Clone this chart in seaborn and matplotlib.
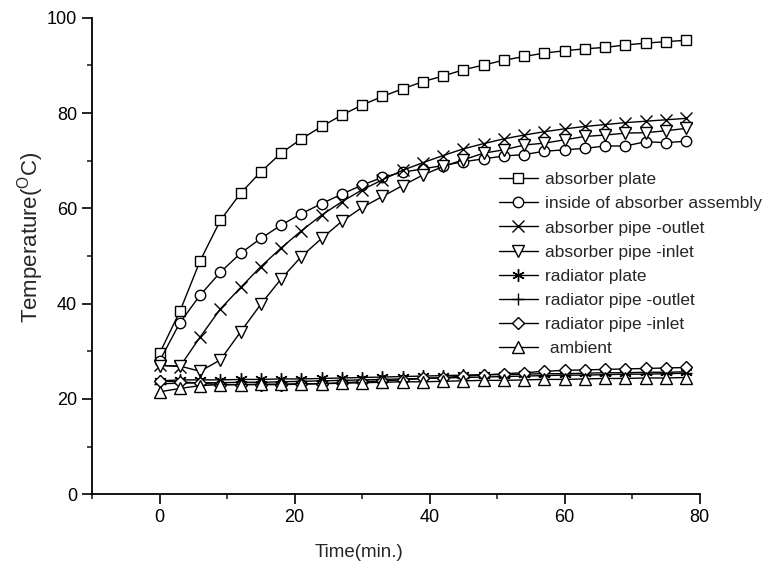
import matplotlib
matplotlib.use("Agg")
import matplotlib.pyplot as plt
import seaborn as sns
import numpy as np
import pandas as pd
from matplotlib.ticker import MultipleLocator

time_min = [0, 3, 6, 9, 12, 15, 18, 21, 24, 27, 30, 33, 36, 39, 42, 45, 48, 51,
            54, 57, 60, 63, 66, 69, 72, 75, 78]

absorber_plate = [29.6, 38.4, 49.0, 57.5, 63.2, 67.7, 71.6, 74.6, 77.2, 79.6, 81.7,
                  83.5, 85.1, 86.6, 87.8, 89.1, 90.1, 91.1, 91.9, 92.6, 93.1, 93.5,
                  93.8, 94.3, 94.7, 95.0, 95.3]
inside_assembly = [28.0, 36.0, 41.8, 46.6, 50.6, 53.7, 56.5, 58.9, 61.0, 63.0, 64.9,
                   66.5, 67.6, 68.3, 69.0, 69.8, 70.4, 71.0, 71.3, 72.0, 72.3, 72.6,
                   73.1, 73.1, 74.0, 73.8, 74.1]
pipe_outlet = [27.1, 26.8, 33.0, 38.9, 43.4, 47.8, 51.7, 55.3, 58.6, 61.4, 63.9,
               66.0, 68.0, 69.6, 71.1, 72.5, 73.6, 74.6, 75.4, 76.1, 76.7, 77.2,
               77.6, 78.0, 78.3, 78.6, 78.9]
pipe_inlet = [27.0, 26.9, 25.8, 28.2, 34.1, 39.9, 45.2, 49.9, 53.7, 57.3, 60.2,
              62.5, 64.8, 67.0, 68.8, 70.2, 71.6, 72.3, 73.3, 73.7, 74.4, 75.1,
              75.4, 75.8, 75.9, 76.3, 76.8]
radiator_plate = [23.8, 24.0, 24.0, 24.0, 24.1, 24.1, 24.2, 24.2, 24.3, 24.4, 24.5,
                  24.6, 24.7, 24.8, 24.9, 25.0, 25.1, 25.1, 25.2, 25.3, 25.3, 25.4,
                  25.5, 25.5, 25.6, 25.6, 25.7]
radiator_outlet = [23.2, 23.3, 23.4, 23.4, 23.5, 23.5, 23.6, 23.7, 23.8, 23.9, 24.0,
                   24.1, 24.2, 24.3, 24.4, 24.5, 24.6, 24.7, 24.8, 24.9, 25.0, 25.0,
                   25.1, 25.2, 25.2, 25.3, 25.4]
radiator_inlet = [23.8, 23.6, 23.3, 23.0, 23.0, 23.0, 23.0, 23.1, 23.2, 23.4, 23.6,
                  23.8, 24.0, 24.3, 24.5, 24.8, 25.0, 25.3, 25.5, 25.8, 26.0, 26.1,
                  26.2, 26.3, 26.4, 26.5, 26.6]
ambient = [21.5, 22.2, 22.8, 23.0, 23.0, 23.1, 23.1, 23.2, 23.2, 23.3, 23.4,
           23.5, 23.6, 23.6, 23.7, 23.8, 23.9, 23.9, 24.0, 24.1, 24.1, 24.2,
           24.3, 24.3, 24.4, 24.4, 24.5]

labels = ["absorber plate", "inside of absorber assembly", "absorber pipe -outlet",
          "absorber pipe -inlet", "radiator plate", "radiator pipe -outlet",
          "radiator pipe -inlet", " ambient"]
series = [absorber_plate, inside_assembly, pipe_outlet, pipe_inlet,
          radiator_plate, radiator_outlet, radiator_inlet, ambient]
markers = ["s", "o", "x", "v", (6, 2, 0), "+", "D", "^"]
sizes = [6.5, 7.5, 8, 8.5, 9, 9, 6.5, 8.5]

sns.set_style("ticks")
plt.rcParams["font.family"] = ["Liberation Sans", "DejaVu Sans"]

fig = plt.figure(figsize=(7.68, 5.76), dpi=100)
ax = fig.add_axes([0.12, 0.142, 0.791, 0.827])

for lab, vals, mk, ms in zip(labels, series, markers, sizes):
    df = pd.DataFrame({"Time": time_min, "Temp": vals})
    sns.lineplot(data=df, x="Time", y="Temp", ax=ax, color="black", linewidth=1.0,
                 marker=mk, markersize=ms, markerfacecolor="white",
                 markeredgecolor="black", markeredgewidth=1.0, label=lab,
                 sort=False)

ax.set_xlim(-10, 80)
ax.set_ylim(0, 100)
ax.set_xticks([0, 20, 40, 60, 80])
ax.xaxis.set_minor_locator(MultipleLocator(10))
ax.yaxis.set_major_locator(MultipleLocator(20))
ax.yaxis.set_minor_locator(MultipleLocator(10))
ax.tick_params(which="major", length=7, width=1.2, direction="out",
               colors="black", pad=4, labelsize=13)
ax.tick_params(which="minor", length=3.5, width=1.2, direction="out")
for s in ["left", "bottom"]:
    ax.spines[s].set_linewidth(1.3)
    ax.spines[s].set_color("black")
sns.despine(ax=ax)

ax.set_xlabel("Time(min.)", fontsize=13.5)
ax.xaxis.set_label_coords(0.44, -0.105)
ax.set_ylabel(r"Temperature($\mathregular{^{O}}$C)", fontsize=16)
ax.yaxis.set_label_coords(-0.076, 0.54)

leg = ax.legend(loc="upper left", bbox_to_anchor=(0.658, 0.691), frameon=False,
                fontsize=12.5, handlelength=2.25, handletextpad=0.4,
                labelspacing=0.52, borderaxespad=0)

fig.savefig("out.png", dpi=100)
